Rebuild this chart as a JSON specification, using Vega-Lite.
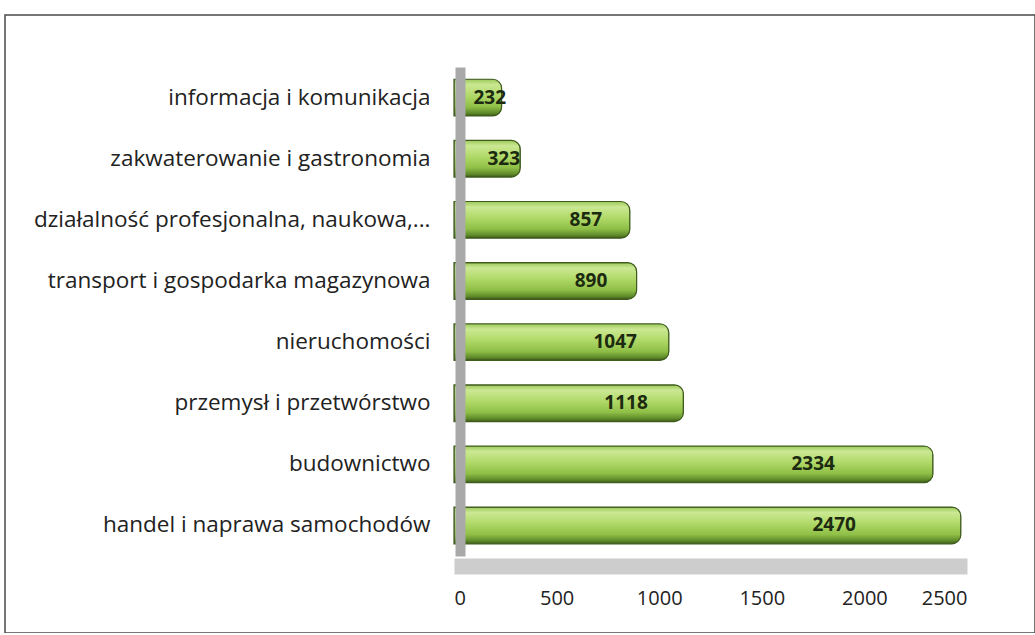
{
  "$schema": "https://vega.github.io/schema/vega-lite/v6.json",
  "width": 1030,
  "height": 618,
  "autosize": {"type": "none"},
  "padding": {"left": 5, "top": 15, "right": 0, "bottom": 0},
  "background": "white",
  "config": {"view": {"stroke": "#4a4a4a", "strokeWidth": 1.5}, "font": "Open Sans"},
  "data": {
    "values": [
      {"category": "informacja i komunikacja", "value": 232},
      {"category": "zakwaterowanie i gastronomia", "value": 323},
      {"category": "działalność profesjonalna, naukowa,...", "value": 857},
      {"category": "transport i gospodarka magazynowa", "value": 890},
      {"category": "nieruchomości", "value": 1047},
      {"category": "przemysł i przetwórstwo", "value": 1118},
      {"category": "budownictwo", "value": 2334},
      {"category": "handel i naprawa samochodów", "value": 2470}
    ]
  },
  "encoding": {
    "y": {
      "field": "category",
      "type": "nominal",
      "sort": null,
      "scale": {"range": [52, 541], "paddingInner": 0.4, "paddingOuter": 0.2},
      "axis": {
        "title": null,
        "orient": "left",
        "offset": -455,
        "domainColor": "#a9a9a9",
        "domainWidth": 10,
        "ticks": false,
        "labelPadding": 30,
        "labelFontSize": 22.5,
        "labelFont": "Open Sans",
        "labelColor": "#222222",
        "labelLimit": 0,
        "zindex": 1
      }
    }
  },
  "layer": [
    {
      "mark": {
        "type": "bar",
        "cornerRadiusEnd": 9,
        "stroke": "#3f5c1d",
        "strokeWidth": 1.2,
        "color": {
          "gradient": "linear",
          "x1": 0, "y1": 0, "x2": 0, "y2": 1,
          "stops": [
            {"offset": 0, "color": "#9cc85a"},
            {"offset": 0.15, "color": "#cbe893"},
            {"offset": 0.45, "color": "#b0d968"},
            {"offset": 0.75, "color": "#8fbf47"},
            {"offset": 0.92, "color": "#5f8a2a"},
            {"offset": 1, "color": "#3d5a1a"}
          ]
        }
      },
      "encoding": {
        "x": {
          "field": "value",
          "type": "quantitative",
          "scale": {"domain": [0, 2500], "range": [449, 962], "nice": false, "zero": true},
          "axis": {
            "title": null,
            "values": [0, 500, 1000, 1500, 2000, 2500],
            "format": "d",
            "grid": false,
            "ticks": false,
            "domainColor": "#cdcdcd",
            "domainWidth": 16,
            "offset": -67,
            "labelPadding": 22,
            "labelFontSize": 20,
            "labelFont": "Open Sans",
            "labelColor": "#222222"
          }
        }
      }
    },
    {
      "transform": [{"calculate": "datum.value * 0.75", "as": "labelAt"}],
      "mark": {"type": "text", "fontWeight": "bold", "fontSize": 19, "color": "#1c2a10", "font": "Open Sans"},
      "encoding": {
        "x": {"field": "labelAt", "type": "quantitative"},
        "text": {"field": "value", "type": "quantitative"}
      }
    }
  ]
}
